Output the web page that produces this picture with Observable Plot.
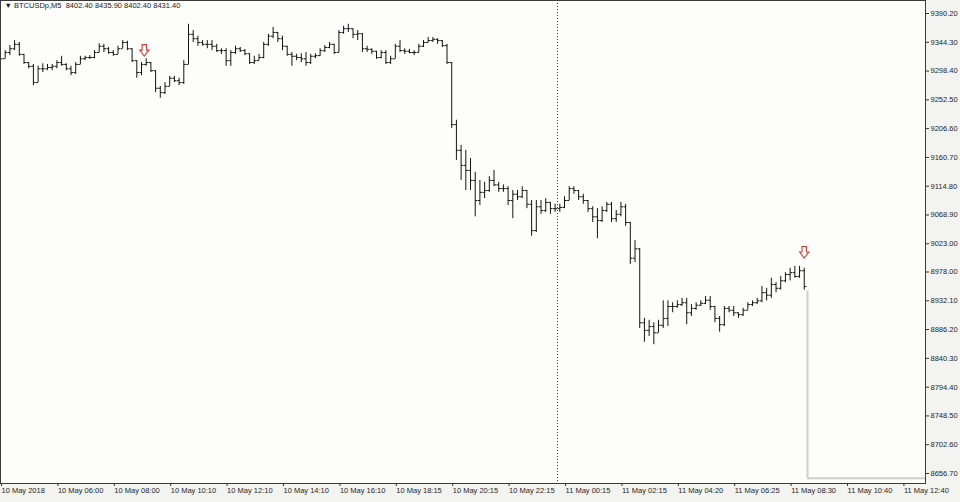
<!DOCTYPE html>
<html><head><meta charset="utf-8">
<script src="https://cdn.jsdelivr.net/npm/d3@7"></script>
<script src="https://cdn.jsdelivr.net/npm/@observablehq/plot@0.6"></script>
<style>
html,body{margin:0;padding:0;background:#f3f3f1;}
#chart{width:960px;height:502px;position:relative;}
</style></head><body><div id="chart"></div>
<script>
const symbolName = "BTCUSDp,M5";
const headerOHLC = ["8402.40", "8435.90", "8402.40", "8431.40"];
const firstOpen = 9325;
const highs = [
9328,9331,9339,9347,9344,9325,9312,9309,9306,9310,9309,9309,9315,9322,9310,9306,9312,9322,9322,9323,
9331,9342,9341,9336,9331,9338,9347,9346,9334,9315,9312,9318,9312,9299,9274,9280,9290,9290,9287,9315,
9373,9363,9354,9347,9347,9347,9341,9334,9334,9331,9338,9336,9333,9326,9322,9325,9344,9357,9368,9360,
9354,9338,9328,9325,9326,9328,9325,9326,9334,9339,9344,9341,9363,9370,9373,9366,9363,9358,9338,9334,
9330,9331,9331,9322,9341,9347,9334,9333,9331,9341,9347,9352,9352,9350,9347,9341,9312,9220,9180,9172,
9159,9137,9124,9121,9130,9140,9121,9117,9114,9108,9108,9114,9108,9092,9092,9092,9095,9089,9086,9086,
9098,9114,9114,9108,9102,9092,9082,9079,9082,9089,9089,9076,9089,9086,9057,9028,9015,8904,8901,8897,
8901,8932,8932,8929,8932,8936,8936,8926,8929,8932,8939,8939,8923,8907,8923,8923,8923,8913,8920,8929,
8932,8936,8955,8952,8968,8961,8971,8977,8984,8987,8987,8984];
const lows = [
9312,9318,9323,9331,9322,9309,9302,9275,9280,9296,9299,9299,9302,9306,9299,9291,9293,9309,9315,9317,
9318,9328,9328,9325,9322,9325,9334,9331,9312,9287,9291,9306,9296,9264,9255,9261,9274,9280,9275,9277,
9309,9344,9338,9338,9334,9331,9328,9325,9306,9306,9325,9328,9323,9309,9309,9315,9318,9338,9350,9344,
9331,9322,9306,9315,9312,9306,9309,9318,9322,9328,9334,9325,9328,9357,9360,9350,9347,9328,9328,9325,
9317,9318,9309,9309,9318,9328,9325,9326,9323,9328,9336,9344,9344,9341,9336,9309,9207,9156,9124,9108,
9108,9066,9084,9095,9105,9114,9105,9105,9084,9063,9092,9095,9079,9035,9041,9070,9073,9070,9073,9073,
9079,9092,9102,9092,9086,9073,9057,9031,9057,9073,9057,9057,9066,9051,8990,8993,8888,8866,8875,8862,
8881,8888,8891,8913,8920,8923,8894,8907,8917,8923,8926,8917,8897,8882,8891,8913,8907,8904,8907,8917,
8923,8926,8929,8932,8936,8945,8949,8961,8964,8968,8968,8949];
const closes = [
9318,9328,9334,9341,9325,9312,9306,9280,9302,9302,9304,9306,9312,9309,9302,9296,9309,9318,9320,9320,
9328,9338,9334,9328,9325,9334,9344,9334,9315,9296,9309,9312,9299,9271,9264,9274,9287,9283,9280,9309,
9357,9350,9344,9341,9341,9338,9331,9331,9315,9328,9334,9331,9326,9312,9315,9320,9341,9354,9360,9350,
9338,9325,9322,9320,9318,9312,9322,9323,9331,9336,9341,9328,9360,9366,9366,9357,9358,9334,9333,9330,
9320,9328,9312,9318,9338,9331,9330,9328,9328,9338,9344,9347,9349,9347,9339,9312,9213,9172,9148,9140,
9124,9092,9105,9108,9124,9117,9111,9111,9092,9102,9098,9108,9086,9044,9082,9076,9089,9079,9079,9081,
9092,9111,9108,9098,9092,9079,9066,9060,9076,9086,9063,9070,9082,9057,9000,9015,8897,8885,8891,8881,
8893,8904,8923,8923,8926,8929,8913,8920,8925,8928,8933,8923,8904,8894,8920,8917,8913,8910,8917,8926,
8929,8932,8945,8941,8958,8952,8964,8974,8977,8971,8980,8955];

const yTicks = [9390.2, 9344.3, 9298.4, 9252.5, 9206.6, 9160.7, 9114.8, 9068.9, 9023.0, 8978.0,
                8932.1, 8886.2, 8840.3, 8794.4, 8748.5, 8702.6, 8656.7];
const xTickIdx = [0, 12, 24, 36, 48, 60, 72, 84, 96, 108, 120, 132, 144, 156, 168, 180, 192];
const xTickLabels = ["10 May 2018", "10 May 06:00", "10 May 08:00", "10 May 10:10", "10 May 12:10",
  "10 May 14:10", "10 May 16:10", "10 May 18:15", "10 May 20:15", "10 May 22:15", "11 May 00:15",
  "11 May 02:15", "11 May 04:20", "11 May 06:25", "11 May 08:30", "11 May 10:40", "11 May 12:40"];
const separatorIdx = 118.5;
const arrowIdx = [30.6, 171];
const arrowPrice = [9331, 9009];
const bracketIdx = 171.7;
const bracketTop = 8948;
const bracketBottom = 8649;

const xDomain = [0, 196.8];
const yDomain = [8640.75, 9410.93];

const bars = highs.map((h, i) => ({
  i, high: h, low: lows[i], close: closes[i], open: i ? closes[i - 1] : firstOpen
}));
const arrows = arrowIdx.map((x, k) => ({x, y: arrowPrice[k]}));

const arrowDown = {
  draw(ctx) {
    ctx.moveTo(-2.2, -6); ctx.lineTo(2.2, -6); ctx.lineTo(2.2, -0.5);
    ctx.lineTo(4.6, -0.5); ctx.lineTo(0, 5.5); ctx.lineTo(-4.6, -0.5);
    ctx.lineTo(-2.2, -0.5); ctx.closePath();
  }
};

const ink = "#141414";
const chart = Plot.plot({
  width: 960, height: 502,
  marginLeft: 0, marginRight: 35, marginTop: 0, marginBottom: 19,
  x: {domain: xDomain},
  y: {domain: yDomain},
  style: {background: "transparent", fontFamily: "'Liberation Sans', Arial, sans-serif", fontSize: "7.5px", color: "#262626"},
  marks: [
    Plot.frame({fill: "#fdfdfb", stroke: null}),
    Plot.ruleX([separatorIdx], {stroke: "#333", strokeDasharray: "1,2", strokeWidth: 1}),
    Plot.ruleX([bracketIdx], {y1: bracketBottom, y2: bracketTop, stroke: "#cfcfcf", strokeWidth: 2}),
    Plot.ruleY([bracketBottom], {x1: bracketIdx, x2: xDomain[1], stroke: "#cfcfcf", strokeWidth: 2}),
    Plot.ruleX(bars, {x: "i", y1: "low", y2: "high", stroke: ink, strokeWidth: 1}),
    Plot.link(bars, {x1: d => d.i - 0.45, x2: "i", y1: "open", y2: "open", stroke: ink, strokeWidth: 1}),
    Plot.link(bars, {x1: "i", x2: d => d.i + 0.45, y1: "close", y2: "close", stroke: ink, strokeWidth: 1}),
    Plot.dot(arrows, {x: "x", y: "y", symbol: arrowDown, r: 5, fill: "#ffffff", stroke: "#d23a32", strokeWidth: 1.1}),
    Plot.axisY(yTicks, {anchor: "right", tickSize: 3, tickPadding: 2, tickFormat: d => d.toFixed(2),
      fontSize: 7.5, stroke: "#333", fill: "#262626"}),
    Plot.axisX(xTickIdx, {anchor: "bottom", tickSize: 3, tickPadding: 1,
      tickFormat: d => xTickLabels[xTickIdx.indexOf(d)], textAnchor: "start", dx: 1,
      fontSize: 7.5, stroke: "#333", fill: "#262626"}),
    Plot.text([0], {frameAnchor: "top-left", dx: 4, dy: 2, lineAnchor: "top", textAnchor: "start",
      text: () => "\u25BC " + symbolName + "  " + headerOHLC.join(" "), fontSize: 7.5, fill: "#1a1a1a"}),
    Plot.frame({stroke: "#3a3a3a", strokeWidth: 1})
  ]
});
document.getElementById("chart").appendChild(chart);
</script>
</body></html>
